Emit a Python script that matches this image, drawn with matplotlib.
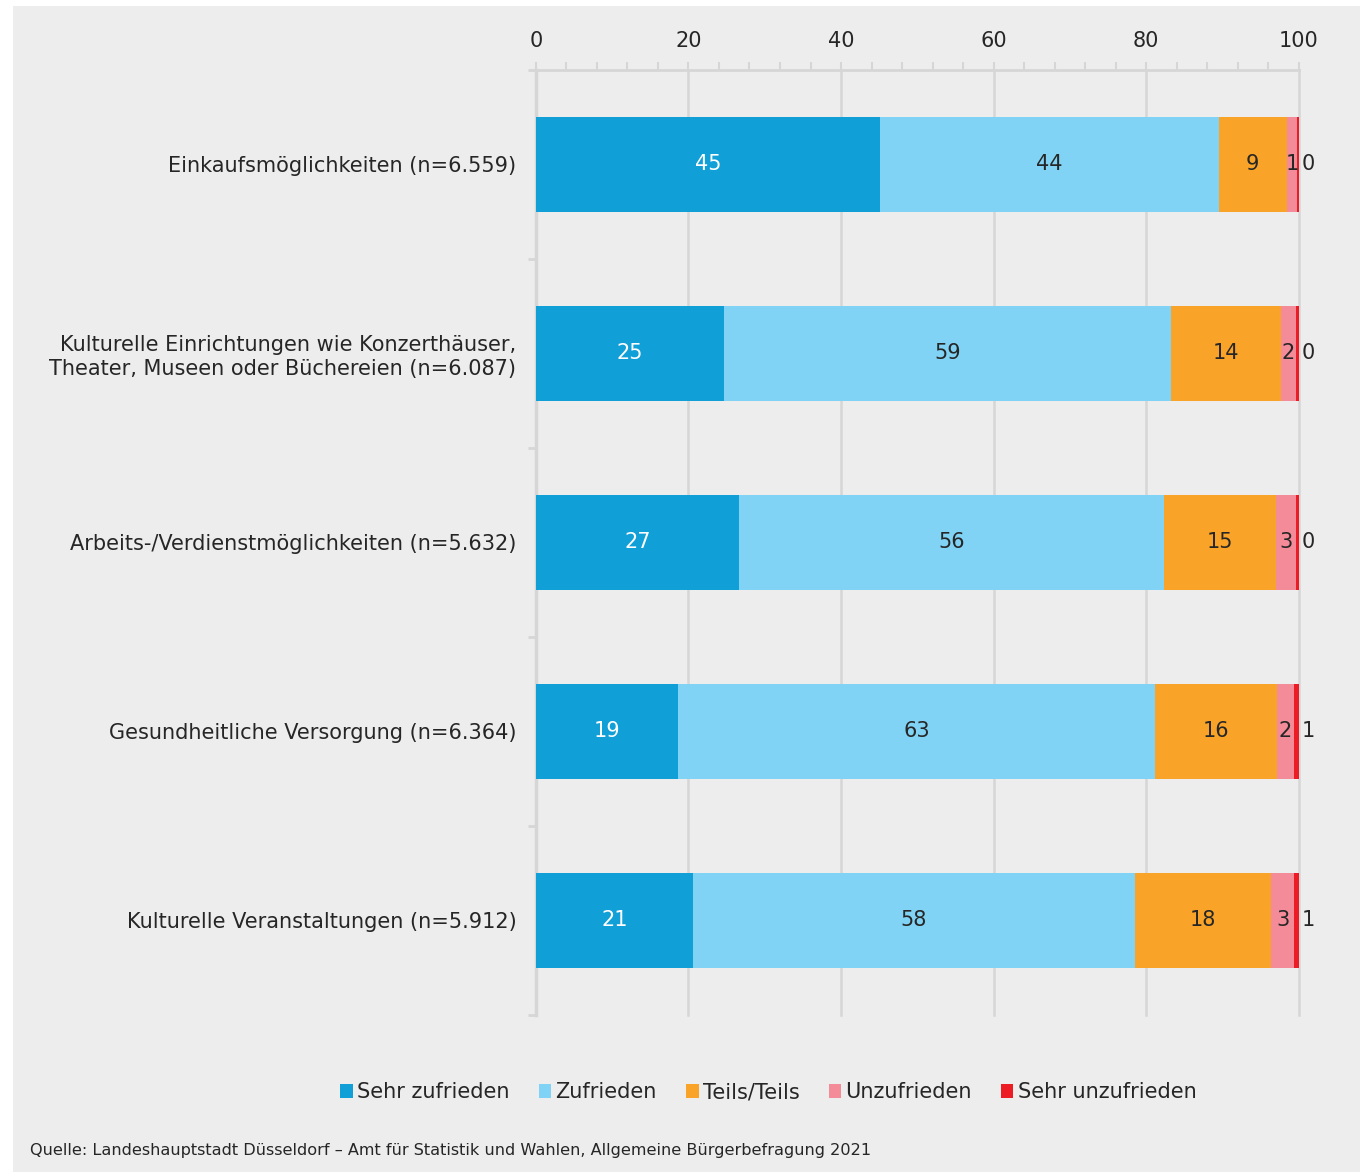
import matplotlib.pyplot as plt
from matplotlib.patches import Rectangle
from matplotlib.ticker import MultipleLocator

categories = [
    'Einkaufsmöglichkeiten (n=6.559)',
    'Kulturelle Einrichtungen wie Konzerthäuser,\nTheater, Museen oder Büchereien (n=6.087)',
    'Arbeits-/Verdienstmöglichkeiten (n=5.632)',
    'Gesundheitliche Versorgung (n=6.364)',
    'Kulturelle Veranstaltungen (n=5.912)',
]
series_names = ['Sehr zufrieden', 'Zufrieden', 'Teils/Teils', 'Unzufrieden', 'Sehr unzufrieden']
sehr_zufrieden = [45.1, 24.6, 26.6, 18.6, 20.6]
zufrieden = [44.4, 58.7, 55.7, 62.6, 57.9]
teils = [8.9, 14.4, 14.7, 15.9, 17.9]
unzufrieden = [1.4, 1.9, 2.6, 2.3, 3.0]
sehr_unzufrieden = [0.2, 0.4, 0.4, 0.6, 0.6]
colors = ['#119fd8', '#80d3f5', '#f9a428', '#f48b98', '#ed1c24']
text_colors = ['white', '#262626', '#262626', '#262626', '#262626']

series = [sehr_zufrieden, zufrieden, teils, unzufrieden, sehr_unzufrieden]
bg = '#ededed'
txt = '#262626'
grid_c = '#d6d6d6'

fig = plt.figure(figsize=(13.6, 11.72), dpi=100, facecolor='white')
fig.patches.append(Rectangle((0.0096, 0), 0.9904, 0.9949, transform=fig.transFigure,
                             facecolor=bg, edgecolor='none', zorder=-10))
ax = fig.add_axes([0.394, 0.134, 0.561, 0.8063])
ax.set_facecolor(bg)

y = list(range(len(categories)))
left = [0.0] * len(categories)
for k, (name, vals) in enumerate(zip(series_names, series)):
    ax.barh(y, vals, left=left, height=0.5, color=colors[k], label=name, zorder=3)
    for i, v in enumerate(vals):
        if k == len(series) - 1:
            ax.text(left[i] + v + 0.4, i, f'{v:.0f}', ha='left', va='center',
                    fontsize=15, color=txt, zorder=4)
        else:
            ax.text(left[i] + v / 2, i, f'{v:.0f}', ha='center', va='center',
                    fontsize=15, color=text_colors[k], zorder=4)
    left = [a + b for a, b in zip(left, vals)]

ax.set_xlim(0, 100)
ax.set_ylim(4.5, -0.5)
ax.xaxis.tick_top()
ax.set_xticks(range(0, 101, 20))
ax.xaxis.set_minor_locator(MultipleLocator(4))
ax.tick_params(axis='x', which='both', length=6, width=1.5, color=grid_c,
               labelsize=15, labelcolor=txt, pad=8)
ax.grid(axis='x', which='major', color=grid_c, linewidth=1.8, zorder=0)
for line in ax.get_xgridlines():
    line.set_clip_on(False)

ax.set_yticks(y)
ax.set_yticklabels(categories, fontsize=15, color=txt)
ax.set_yticks([i + 0.5 for i in range(-1, len(categories))], minor=True)
ax.tick_params(axis='y', which='major', length=0, pad=14)
ax.tick_params(axis='y', which='minor', length=6, width=2, color=grid_c)

for s in ['right', 'bottom']:
    ax.spines[s].set_visible(False)
ax.spines['left'].set_color(grid_c)
ax.spines['left'].set_linewidth(2.5)
ax.spines['top'].set_color(grid_c)
ax.spines['top'].set_linewidth(2)

fig.legend(loc='center', bbox_to_anchor=(0.565, 0.068), ncol=5, frameon=False,
           fontsize=15, handlelength=0.6, handleheight=0.6, handletextpad=0.2,
           columnspacing=1.4, labelcolor=txt)

fig.text(0.022, 0.018, 'Quelle: Landeshauptstadt Düsseldorf – Amt für Statistik und Wahlen, '
         'Allgemeine Bürgerbefragung 2021', fontsize=11.6, color=txt, va='center')

fig.savefig('out.png', dpi=100, facecolor='white')
